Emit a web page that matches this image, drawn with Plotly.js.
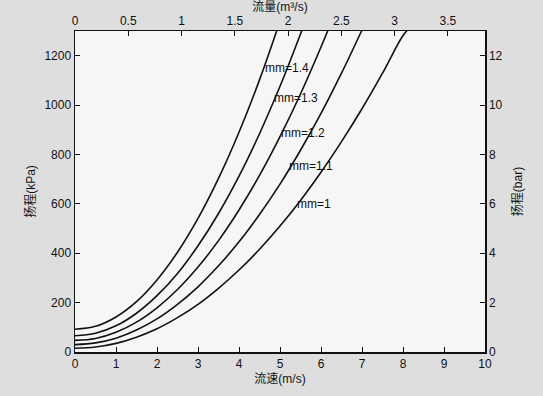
<!DOCTYPE html>
<html>
<head>
<meta charset="utf-8">
<script src="https://cdn.plot.ly/plotly-3.0.1.min.js"></script>
<style>html,body{margin:0;padding:0;background:#dedede;}</style>
</head>
<body>
<div id="chart" style="width:543px;height:396px;"></div>
<script>
// Flow velocity (m/s) and head (kPa) for each curve
const mmLabels = ["mm=1", "mm=1.1", "mm=1.2", "mm=1.3", "mm=1.4"];
const v_mm10 = [0, 0.5, 1, 1.5, 2, 2.5, 3, 3.5, 4, 4.5, 5, 5.5, 6, 6.5, 7, 7.5, 8, 8.15];
const h_mm10 = [15, 20, 35, 60, 94, 139, 193, 258, 332, 416, 510, 614, 728, 852, 985, 1129, 1282, 1310];
const v_mm11 = [0, 0.5, 1, 1.5, 2, 2.5, 3, 3.5, 4, 4.5, 5, 5.5, 6, 6.5, 7, 7.1];
const h_mm11 = [30, 37, 56, 89, 134, 193, 264, 349, 446, 557, 680, 817, 966, 1129, 1304, 1340];
const v_mm12 = [0, 0.5, 1, 1.5, 2, 2.5, 3, 3.5, 4, 4.5, 5, 5.5, 6, 6.3];
const h_mm12 = [47, 55, 80, 121, 179, 253, 344, 451, 575, 715, 872, 1045, 1235, 1357];
const v_mm13 = [0, 0.5, 1, 1.5, 2, 2.5, 3, 3.5, 4, 4.5, 5, 5.5, 5.6];
const h_mm13 = [66, 76, 106, 157, 228, 318, 430, 561, 712, 884, 1076, 1288, 1333];
const v_mm14 = [0, 0.5, 1, 1.5, 2, 2.5, 3, 3.5, 4, 4.5, 5.0];
const h_mm14 = [92, 104, 142, 204, 292, 404, 541, 703, 890, 1102, 1340];

// curve label anchor points (on the curves)
const labelV = [5.45, 5.24, 5.04, 4.88, 4.66];
const labelH = [600, 752, 887, 1029, 1150];

// axes ticks
const xTicks = [0, 1, 2, 3, 4, 5, 6, 7, 8, 9, 10];
const x2Ticks = [0, 0.5, 1, 1.5, 2, 2.5, 3, 3.5];
const yTicks = [0, 200, 400, 600, 800, 1000, 1200];
const y2Ticks = [0, 2, 4, 6, 8, 10, 12];
const xRange = [0, 10];
const x2Range = [0, 3.848];
const yRange = [0, 1300];
const y2Range = [0, 13];

const vs = [v_mm10, v_mm11, v_mm12, v_mm13, v_mm14];
const hs = [h_mm10, h_mm11, h_mm12, h_mm13, h_mm14];

const font = "Liberation Sans, Arial, Noto Sans CJK SC, sans-serif";
const traces = vs.map((v, i) => ({
  x: v, y: hs[i], type: "scatter", mode: "lines", name: mmLabels[i],
  line: {color: "#111", width: 1.6, shape: "spline", smoothing: 1},
  hoverinfo: "skip", showlegend: false
}));
traces.push({x: [], y: [], xaxis: "x2", yaxis: "y2", type: "scatter", mode: "lines", showlegend: false, hoverinfo: "skip"});

const axCommon = {
  showgrid: false, zeroline: false, showline: true, linecolor: "#111", linewidth: 1.5,
  ticks: "inside", ticklen: 5, tickcolor: "#111", tickwidth: 1,
  tickfont: {family: font, size: 12, color: "#111"}, tickmode: "array"
};

const annotations = mmLabels.map((t, i) => ({
  x: labelV[i], y: labelH[i], xref: "x", yref: "y", text: t, showarrow: false,
  xanchor: "left", yanchor: "middle", xshift: -3,
  font: {family: font, size: 12, color: "#111"}
}));

const layout = {
  width: 543, height: 396,
  margin: {l: 75, r: 58, t: 31, b: 44, pad: 0},
  paper_bgcolor: "#dedede", plot_bgcolor: "#f6f6f6",
  showlegend: false,
  xaxis: Object.assign({}, axCommon, {range: xRange, tickvals: xTicks,
    title: {text: "流速(m/s)", font: {family: font, size: 12, color: "#111"}, standoff: 4}}),
  xaxis2: Object.assign({}, axCommon, {range: x2Range, tickvals: x2Ticks, overlaying: "x", side: "top",
    title: {text: "流量(m³/s)", font: {family: font, size: 12, color: "#111"}, standoff: 0}}),
  yaxis: Object.assign({}, axCommon, {range: yRange, tickvals: yTicks,
    title: {text: "扬程(kPa)", font: {family: font, size: 12, color: "#111"}, standoff: 6}}),
  yaxis2: Object.assign({}, axCommon, {range: y2Range, tickvals: y2Ticks, overlaying: "y", side: "right",
    title: {text: "扬程(bar)", font: {family: font, size: 12, color: "#111"}, standoff: 12}}),
  annotations: annotations
};

Plotly.newPlot("chart", traces, layout, {staticPlot: true, displayModeBar: false});
</script>
</body>
</html>
